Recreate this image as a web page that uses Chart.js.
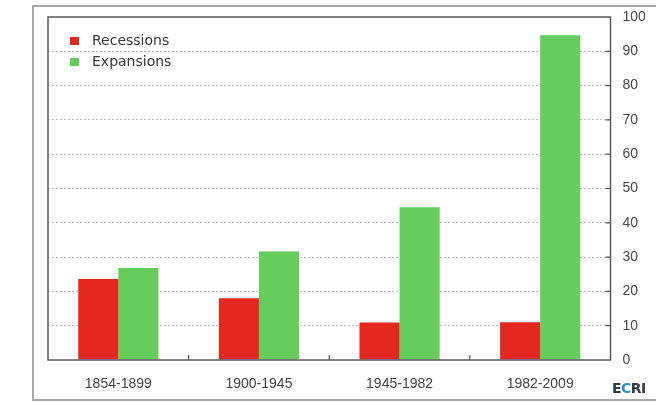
<!DOCTYPE html>
<html>
<head>
<meta charset="utf-8">
<script src="https://cdn.jsdelivr.net/npm/chart.js@4.4.1/dist/chart.umd.min.js"></script>
<style>
  html, body { margin: 0; padding: 0; background: #ffffff; }
  #wrap { width: 656px; height: 402px; }
</style>
</head>
<body>
<div id="wrap"><canvas id="c" width="656" height="402"></canvas></div>
<script>
// Average length (months) of business-cycle phases by era
const periods = ['1854-1899', '1900-1945', '1945-1982', '1982-2009'];
const recessions = [23.6, 18, 10.9, 11];
const expansions = [26.8, 31.6, 44.5, 94.7];
const yTicks = [0, 10, 20, 30, 40, 50, 60, 70, 80, 90, 100];

const RED = '#e2281f';
const GREEN = '#66cc5b';
const FONT = '"DejaVu Sans", sans-serif';
const AXIS_FONT = '"Liberation Sans", Arial, sans-serif';

// Outer panel, plot frame, inner tick marks, legend and logo
const decor = {
  id: 'decor',
  beforeDraw(chart) {
    const ctx = chart.ctx;
    ctx.save();
    ctx.fillStyle = '#ffffff';
    ctx.fillRect(0, 0, chart.width, chart.height);
    ctx.strokeStyle = '#a9a9a9';
    ctx.lineWidth = 2;
    ctx.beginPath();
    ctx.moveTo(chart.width, 6);
    ctx.lineTo(33, 6);
    ctx.lineTo(33, 400);
    ctx.lineTo(chart.width, 400);
    ctx.stroke();
    ctx.restore();
  },
  afterDatasetsDraw(chart) {
    const ctx = chart.ctx;
    const a = chart.chartArea;
    const y = chart.scales.y;
    const x = chart.scales.x;
    ctx.save();
    ctx.strokeStyle = '#5a5a5a';
    ctx.lineWidth = 1.5;
    ctx.strokeRect(a.left, a.top, a.right - a.left, a.bottom - a.top);
    // short inward ticks on the right edge
    ctx.lineWidth = 1.2;
    ctx.beginPath();
    yTicks.slice(1, -1).forEach(v => {
      const py = y.getPixelForValue(v);
      ctx.moveTo(a.right - 5, py);
      ctx.lineTo(a.right, py);
    });
    // short upward ticks between categories
    for (let i = 0; i < periods.length - 1; i++) {
      const px = (x.getPixelForValue(i) + x.getPixelForValue(i + 1)) / 2;
      ctx.moveTo(px, a.bottom);
      ctx.lineTo(px, a.bottom - 5);
    }
    ctx.stroke();

    // legend inside the plot
    ctx.font = '14px ' + FONT;
    ctx.textBaseline = 'middle';
    ctx.textAlign = 'left';
    chart.data.datasets.forEach((ds, i) => {
      const cy = 41 + i * 21;
      ctx.fillStyle = ds.backgroundColor;
      ctx.fillRect(70, cy - 4, 9, 8);
      ctx.fillStyle = '#3a3a3a';
      ctx.fillText(ds.label, 92, cy);
    });

    // ECRI mark
    ctx.font = 'bold 14px ' + FONT;
    ctx.textBaseline = 'alphabetic';
    let lx = 612;
    [['E', '#2f3a45'], ['C', '#2c8fd3'], ['R', '#2f3a45'], ['I', '#2f3a45']].forEach(([ch, col]) => {
      ctx.fillStyle = col;
      ctx.fillText(ch, lx, 393);
      lx += ctx.measureText(ch).width - 0.5;
    });
    ctx.restore();
  }
};

new Chart(document.getElementById('c'), {
  type: 'bar',
  data: {
    labels: periods,
    datasets: [
      { label: 'Recessions', data: recessions, backgroundColor: RED },
      { label: 'Expansions', data: expansions, backgroundColor: GREEN }
    ]
  },
  options: {
    responsive: false,
    animation: false,
    devicePixelRatio: 1,
    layout: { padding: { left: 48, top: 17, right: 0, bottom: 0 } },
    datasets: {
      bar: { categoryPercentage: 0.57, barPercentage: 1.0, borderWidth: 0 }
    },
    plugins: {
      legend: { display: false },
      tooltip: { enabled: false }
    },
    scales: {
      x: {
        grid: { display: false },
        border: { display: false },
        ticks: { color: '#454545', font: { family: AXIS_FONT, size: 14 }, padding: 8 },
        afterFit(scale) { scale.height = 42; scale.paddingLeft = 0; scale.paddingRight = 0; }
      },
      y: {
        position: 'right',
        min: 0,
        max: 100,
        afterBuildTicks(scale) { scale.ticks = yTicks.map(v => ({ value: v })); },
        grid: {
          drawTicks: false,
          color: ctx => (ctx.tick && (ctx.tick.value === 0 || ctx.tick.value === 100)) ? 'rgba(0,0,0,0)' : '#bdbdbd',
          lineWidth: 1
        },
        border: { display: false, dash: [2, 2] },
        ticks: { color: '#4a4a4a', font: { family: AXIS_FONT, size: 14 }, padding: 12 },
        afterFit(scale) { scale.width = 45.5; scale.paddingTop = 0; scale.paddingBottom = 0; }
      }
    }
  },
  plugins: [decor]
});
</script>
</body>
</html>
